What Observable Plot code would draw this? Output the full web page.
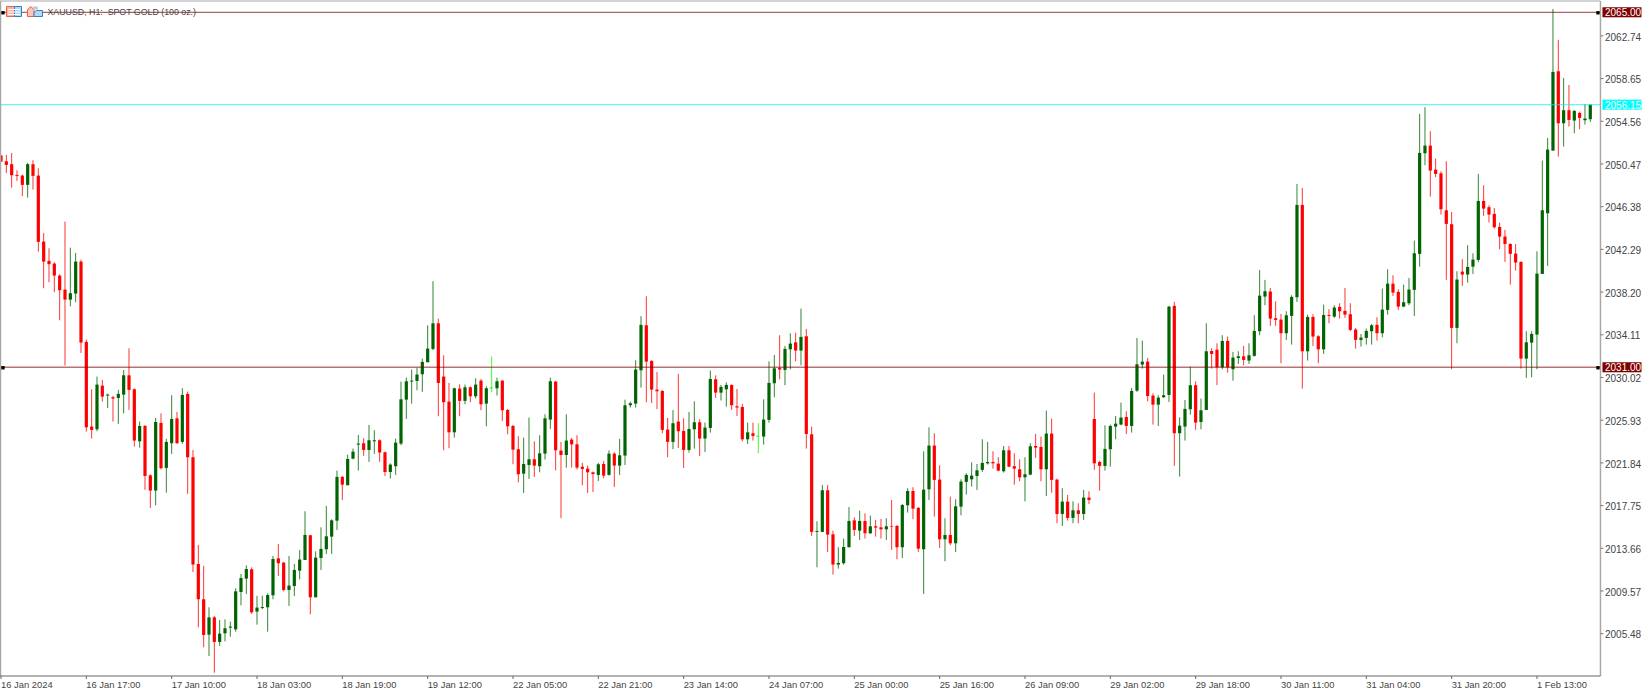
<!DOCTYPE html>
<html><head><meta charset="utf-8">
<style>html,body{margin:0;padding:0;background:#fff;overflow:hidden}svg{display:block}</style>
<script src="https://cdn.jsdelivr.net/npm/d3@7"></script>
<script src="https://cdn.jsdelivr.net/npm/@observablehq/plot@0.6"></script>
</head><body><div id="chart"></div>
<script>
const open = [
2051.28,2050.73,2050.45,2049.42,2049.36,2048.47,2050.45,2049.36,2043.04,2041.19,
2040.93,2039.78,2038.44,2037.48,2038.06,2041.12,2033.43,2025.32,2025.06,2029.24,
2028.29,2028.13,2028.06,2028.38,2030.23,2028.89,2023.91,2025.38,2020.65,2019.19,
2025.67,2021.36,2023.72,2026.11,2023.85,2028.45,2022.38,2012.16,2008.78,2005.39,
2007.05,2004.69,2005.52,2006.06,2005.90,2009.48,2010.76,2011.65,2007.60,2007.95,
2008.01,2009.16,2012.70,2012.29,2009.67,2010.05,2011.52,2012.54,2014.91,2008.97,
2012.74,2013.57,2014.78,2016.31,2020.50,2019.70,2022.25,2023.59,2023.72,2023.08,
2023.91,2024.01,2022.86,2020.97,2021.52,2023.69,2027.90,2029.63,2029.69,2030.33,
2031.48,2032.76,2035.21,2030.11,2027.71,2024.77,2028.96,2027.78,2029.08,2028.22,
2029.72,2027.52,2029.02,2028.99,2029.72,2026.91,2025.38,2023.15,2020.81,2021.64,
2022.19,2021.52,2022.73,2025.99,2029.63,2023.02,2022.60,2024.07,2023.62,2021.48,
2021.29,2020.94,2020.69,2021.74,2020.69,2022.73,2021.58,2022.54,2027.36,2027.52,
2030.71,2035.02,2031.61,2028.86,2028.73,2025.03,2023.85,2025.80,2024.90,2023.08,
2025.06,2025.73,2024.17,2025.19,2029.85,2028.57,2028.89,2029.31,2027.26,2027.20,
2024.10,2024.68,2024.39,2024.36,2025.96,2029.47,2030.94,2030.74,2032.72,2033.39,
2032.60,2033.97,2024.58,2015.23,2015.23,2019.22,2015.00,2012.10,2012.23,2013.76,
2016.34,2015.35,2016.28,2015.10,2015.77,2015.67,2015.48,2015.80,2015.80,2013.76,
2017.78,2019.15,2017.53,2013.57,2019.31,2023.50,2020.24,2014.52,2014.94,2014.14,
2017.65,2020.02,2020.27,2020.59,2021.17,2021.80,2021.93,2021.77,2021.04,2023.05,
2021.52,2021.23,2020.46,2020.72,2023.46,2023.37,2021.23,2024.65,2020.24,2016.95,
2018.13,2016.57,2017.30,2016.95,2018.52,2026.05,2021.93,2021.55,2023.15,2025.32,
2025.51,2026.24,2025.38,2028.76,2031.26,2031.54,2028.29,2027.42,2028.13,2028.35,
2036.88,2024.68,2025.32,2026.98,2029.28,2025.76,2026.91,2032.56,2032.69,2031.00,
2033.52,2030.81,2031.89,2032.05,2031.64,2032.09,2034.45,2037.77,2038.25,2035.69,
2035.57,2034.26,2035.92,2037.71,2046.55,2032.53,2035.82,2033.97,2032.72,2036.01,
2035.85,2036.78,2036.40,2036.08,2034.61,2033.62,2033.81,2034.45,2035.06,2034.26,
2036.49,2039.01,2038.22,2036.81,2037.13,2038.41,2041.86,2051.50,2052.23,2049.93,
2049.58,2046.04,2044.70,2034.77,2040.16,2039.88,2040.64,2041.28,2046.93,2046.33,
2045.69,2044.44,2043.52,2042.81,2041.89,2041.09,2031.83,2033.36,2034.13,2039.94,
2045.75,2051.75,2059.35,2054.37,2055.62,2054.63,2055.36,2054.66,2054.76];
const close = [
2050.70,2050.38,2049.39,2049.33,2048.47,2050.45,2049.33,2043.01,2041.12,2040.87,
2039.78,2038.38,2037.48,2038.09,2041.12,2033.36,2025.25,2025.00,2029.34,2028.19,
2028.38,2028.00,2028.45,2030.23,2028.83,2023.98,2025.38,2020.59,2019.19,2025.76,
2021.33,2023.85,2026.05,2023.72,2028.35,2022.38,2012.10,2008.78,2005.36,2007.05,
2004.69,2005.49,2006.00,2006.16,2009.54,2010.82,2011.68,2007.53,2007.98,2008.04,
2009.19,2012.64,2012.23,2009.67,2010.09,2011.59,2012.58,2014.94,2008.97,2012.77,
2013.60,2014.81,2016.34,2020.50,2019.76,2022.22,2022.92,2023.69,2023.08,2024.01,
2024.01,2022.83,2020.97,2021.68,2023.78,2027.93,2029.66,2029.72,2030.30,2031.51,
2032.79,2035.21,2029.50,2027.65,2024.77,2028.99,2027.78,2029.08,2028.22,2029.34,
2027.46,2028.99,2029.02,2029.66,2026.88,2025.35,2023.11,2020.75,2021.74,2022.19,
2021.58,2022.76,2026.11,2029.66,2023.05,2022.60,2023.98,2023.62,2021.39,2021.26,
2020.94,2020.78,2021.71,2020.62,2022.73,2021.58,2022.57,2027.36,2027.55,2030.78,
2035.06,2031.54,2028.86,2028.70,2025.00,2023.85,2025.64,2024.87,2023.08,2025.09,
2025.73,2024.17,2025.22,2029.88,2028.57,2029.12,2029.31,2027.36,2027.14,2024.10,
2024.77,2024.42,2024.39,2025.99,2029.50,2030.90,2030.78,2032.76,2033.27,2032.60,
2033.91,2024.61,2015.23,2015.32,2019.22,2014.97,2012.10,2012.26,2013.79,2016.28,
2015.42,2016.28,2015.10,2015.77,2015.64,2015.48,2015.77,2015.74,2013.76,2017.81,
2019.15,2017.46,2013.63,2019.28,2023.50,2020.21,2014.52,2014.94,2014.14,2017.68,
2020.05,2020.69,2020.62,2021.13,2021.84,2021.93,2021.80,2021.10,2023.05,2021.48,
2021.29,2020.46,2020.75,2023.43,2023.30,2021.23,2024.65,2020.21,2016.95,2018.13,
2016.57,2017.30,2016.95,2018.52,2018.29,2021.80,2021.55,2023.18,2025.38,2025.60,
2026.18,2025.38,2028.73,2031.29,2031.54,2028.25,2027.42,2028.09,2028.32,2036.81,
2024.68,2025.41,2027.01,2029.28,2025.70,2026.88,2032.53,2032.28,2031.00,2033.52,
2031.00,2031.93,2032.05,2031.70,2032.15,2034.48,2037.86,2038.28,2035.66,2035.53,
2034.26,2035.98,2037.74,2046.55,2032.53,2035.82,2033.94,2032.72,2036.01,2035.92,
2036.72,2036.36,2036.04,2034.58,2033.62,2033.84,2034.48,2035.02,2034.26,2036.52,
2039.01,2038.15,2036.81,2037.23,2038.44,2041.92,2051.53,2052.23,2049.84,2049.52,
2046.13,2044.73,2034.77,2039.40,2039.88,2040.61,2041.31,2046.93,2046.20,2045.62,
2044.41,2043.52,2042.81,2041.86,2041.03,2031.83,2033.39,2034.19,2039.97,2046.04,
2051.85,2059.29,2054.37,2055.62,2054.69,2055.55,2054.88,2054.82,2056.15];
const high = [
2051.34,2051.34,2051.53,2049.87,2049.46,2050.57,2050.83,2050.06,2043.87,2042.40,
2041.06,2039.91,2044.95,2042.46,2041.95,2041.31,2033.65,2028.89,2030.11,2029.79,
2028.48,2028.25,2028.83,2030.74,2032.82,2028.99,2025.80,2025.48,2020.75,2026.15,
2026.59,2024.14,2028.32,2026.72,2028.99,2028.67,2023.08,2013.98,2011.97,2008.01,
2007.18,2006.80,2006.86,2006.64,2009.83,2011.20,2012.03,2011.84,2009.10,2009.13,
2009.35,2012.93,2014.08,2012.35,2012.93,2012.16,2013.50,2017.21,2014.95,2013.37,
2015.67,2017.72,2016.44,2021.10,2020.59,2022.63,2023.21,2024.52,2024.20,2025.48,
2024.97,2024.10,2022.92,2021.80,2024.17,2029.63,2030.01,2030.78,2030.94,2031.83,
2035.02,2039.24,2035.66,2032.15,2029.50,2029.05,2029.37,2029.34,2029.18,2029.95,
2029.88,2029.18,2032.05,2030.01,2029.75,2027.01,2025.48,2024.39,2024.26,2026.18,
2023.91,2024.49,2026.50,2030.01,2029.69,2023.85,2026.50,2024.23,2024.49,2021.84,
2021.58,2021.01,2021.84,2022.03,2023.05,2022.86,2024.14,2027.90,2027.68,2031.67,
2035.89,2037.80,2031.67,2030.55,2028.83,2026.15,2026.91,2030.36,2026.11,2026.72,
2027.74,2026.02,2025.70,2030.68,2030.23,2029.31,2029.56,2029.34,2028.92,2027.49,
2025.70,2025.70,2025.64,2027.93,2031.57,2032.18,2034.07,2033.04,2034.26,2034.32,
2036.62,2034.67,2025.32,2016.25,2019.73,2019.73,2015.35,2013.76,2014.59,2017.62,
2016.63,2017.27,2017.01,2016.79,2016.38,2016.47,2016.54,2018.29,2015.90,2017.91,
2019.41,2019.51,2017.62,2022.95,2025.25,2024.68,2021.61,2016.54,2018.61,2018.36,
2020.27,2020.85,2021.90,2021.74,2024.10,2023.85,2022.95,2022.38,2023.46,2023.46,
2022.76,2022.19,2022.38,2023.72,2024.61,2024.36,2026.85,2026.08,2020.34,2019.41,
2018.77,2018.16,2017.97,2019.25,2019.12,2028.57,2022.06,2025.44,2025.51,2026.34,
2027.62,2026.79,2029.02,2033.81,2033.55,2031.89,2028.51,2028.32,2030.30,2036.88,
2037.26,2026.21,2027.87,2031.06,2029.66,2028.00,2035.21,2032.82,2033.30,2034.07,
2033.94,2032.47,2032.53,2033.04,2033.30,2035.98,2040.32,2039.37,2038.60,2037.32,
2036.11,2036.36,2037.90,2048.56,2048.18,2036.04,2036.08,2034.07,2037.00,2036.56,
2036.94,2037.13,2038.60,2037.13,2034.77,2034.19,2034.70,2035.15,2035.79,2038.54,
2040.39,2039.81,2038.47,2038.92,2039.56,2043.13,2055.27,2055.91,2053.61,2050.99,
2049.77,2050.73,2045.88,2040.20,2041.35,2042.69,2041.92,2049.52,2048.43,2046.52,
2046.26,2044.86,2044.16,2042.88,2042.81,2041.15,2034.45,2034.45,2042.11,2050.80,
2052.97,2065.32,2062.36,2058.71,2058.04,2055.65,2055.49,2056.22,2056.16];
const low = [
2050.64,2049.61,2048.21,2048.85,2047.38,2047.25,2048.02,2042.08,2038.57,2039.14,
2038.18,2035.50,2031.16,2036.84,2037.23,2032.37,2024.84,2024.17,2024.87,2027.71,
2027.10,2025.80,2025.57,2026.59,2026.91,2023.40,2023.30,2019.25,2017.53,2017.78,
2021.23,2018.99,2022.70,2023.66,2023.66,2018.87,2011.39,2006.09,2004.18,2003.35,
2001.75,2004.31,2004.75,2005.20,2005.68,2008.20,2009.29,2007.37,2006.35,2007.82,
2005.68,2008.78,2011.01,2009.54,2008.14,2009.10,2010.69,2012.54,2007.34,2008.95,
2011.59,2013.12,2013.12,2015.42,2018.29,2019.70,2022.19,2021.10,2022.51,2021.93,
2022.70,2021.93,2020.59,2020.34,2020.69,2023.53,2026.05,2027.52,2028.80,2028.64,
2031.48,2032.63,2026.31,2023.05,2023.24,2024.26,2026.31,2027.46,2027.65,2028.03,
2026.88,2025.35,2028.61,2028.29,2025.86,2024.58,2021.71,2019.98,2018.96,2020.30,
2020.50,2020.94,2022.16,2025.09,2021.13,2016.54,2021.39,2021.39,2021.20,2019.70,
2018.96,2019.06,2020.11,2020.37,2020.62,2019.54,2020.69,2021.64,2027.14,2027.14,
2029.05,2027.65,2027.58,2026.98,2024.68,2022.38,2023.15,2023.27,2021.36,2022.83,
2023.21,2022.51,2022.89,2024.74,2028.06,2027.81,2027.23,2026.91,2026.34,2023.91,
2023.66,2023.98,2022.76,2023.59,2025.70,2028.13,2029.85,2029.28,2030.81,2031.57,
2031.19,2023.21,2014.84,2011.84,2015.20,2013.31,2011.14,2011.71,2012.10,2013.76,
2014.84,2014.46,2014.59,2015.03,2014.78,2014.59,2014.46,2013.50,2012.61,2012.74,
2017.08,2016.44,2013.31,2009.29,2018.29,2016.70,2013.69,2012.42,2013.95,2013.31,
2016.82,2018.80,2019.57,2019.25,2020.97,2021.68,2021.29,2021.04,2020.91,2021.42,
2019.76,2020.08,2018.16,2020.65,2022.32,2020.08,2018.67,2018.99,2016.06,2015.80,
2016.31,2016.06,2016.06,2016.38,2017.91,2021.17,2019.19,2021.10,2021.48,2024.10,
2025.44,2024.61,2024.74,2028.64,2030.87,2027.74,2025.51,2025.38,2028.06,2027.68,
2021.55,2020.53,2023.98,2026.47,2025.00,2025.06,2026.91,2030.87,2029.28,2030.81,
2030.49,2029.72,2031.32,2031.19,2031.32,2032.02,2034.07,2036.94,2034.96,2034.96,
2031.38,2033.62,2033.17,2037.26,2028.96,2031.64,2033.04,2031.38,2032.28,2035.21,
2035.73,2035.66,2035.73,2034.45,2032.79,2032.98,2033.17,2033.17,2033.55,2033.87,
2036.04,2037.83,2036.49,2036.75,2036.94,2035.92,2040.64,2050.35,2047.35,2049.20,
2045.62,2039.37,2030.81,2033.30,2038.79,2039.11,2039.94,2041.09,2045.50,2044.86,
2044.28,2042.30,2041.09,2038.92,2040.26,2030.87,2029.98,2030.04,2030.81,2039.94,
2040.71,2051.75,2051.18,2052.14,2054.05,2053.41,2053.80,2054.24,2054.50];

const timeLabels = ["16 Jan 2024","16 Jan 17:00","17 Jan 10:00","18 Jan 03:00","18 Jan 19:00","19 Jan 12:00","22 Jan 05:00","22 Jan 21:00","23 Jan 14:00","24 Jan 07:00","25 Jan 00:00","25 Jan 16:00","26 Jan 09:00","29 Jan 02:00","29 Jan 18:00","30 Jan 11:00","31 Jan 04:00","31 Jan 20:00","1 Feb 13:00"];
const barsPerLabel = 16;
const priceTicks = [2062.74,2058.65,2054.56,2050.47,2046.38,2042.29,2038.20,2034.11,2030.02,2025.93,2021.84,2017.75,2013.66,2009.57,2005.48];
const levels = [{v:2065.00,tag:"#800000",line:"#800000",op:0.62},{v:2031.00,tag:"#800000",line:"#800000",op:0.55},{v:2056.15,tag:"#00ffff",line:"#00f0f0",op:0.6}];
const title = "XAUUSD, H1:\u00a0\u00a0SPOT GOLD (100 oz.)";

const bars = open.map((o,i)=>({i,o,c:close[i],h:high[i],l:low[i]}));
const col = d => d.c>d.o ? "#006400" : d.c<d.o ? "#ff0000" : "#00ff00";
const upBars = bars.filter(d=>d.c>d.o), downBars = bars.filter(d=>d.c<d.o), flatBars = bars.filter(d=>d.c===d.o);
const xAt = px => (px-1)/(5.3333);
const tickIdx = timeLabels.map((_,k)=>k*barsPerLabel);
const FONT = "Liberation Sans, Arial, sans-serif";

function icons(){
  const g = d3.create("svg:g");
  const blocks = [
    ["M6.5 6.5h8v10h-8z","#ffb0a4","#e8604f"],["M14.5 6.5h7v10h-7z","#b4d8f4","#2f84c8"],
    ["M27.5 10l3-3.5 3.5 3v7h-6.5z","#ffc4b8","#e8604f"],["M36.5 10.5h6v6h-8.5v-4z","#b4d8f4","#2f84c8"]];
  for (const [d,f,s] of blocks) g.append("path").attr("d",d).attr("fill",f).attr("stroke",s);
  for (const y of [9.5,12,14.5]) g.append("path").attr("d",`M8 ${y}h12`).attr("stroke","#fff").attr("stroke-width",1);
  g.append("rect").attr("x",33).attr("y",6.5).attr("width",5).attr("height",3).attr("fill","#c8c8c8");
  return g.node();
}

const chart = Plot.plot({
  width:1642, height:691, marginLeft:1, marginRight:41, marginTop:1, marginBottom:15,
  style:{background:"#fff",fontFamily:FONT,overflow:"visible"},
  x:{type:"linear",domain:[0,298],range:[0.5,1589.8],axis:null},
  y:{type:"linear",domain:[2066.08,2001.43],range:[1,676],axis:null},
  marks:[
    // wicks
    Plot.ruleX(bars,{x:"i",y1:"l",y2:"h",stroke:col,strokeWidth:0.8}),
    // bodies
    Plot.ruleX(upBars,{x:"i",y1:"o",y2:"c",stroke:"#006400",strokeWidth:3.2}),
    Plot.ruleX(downBars,{x:"i",y1:"o",y2:"c",stroke:"#ff0000",strokeWidth:3.2}),
    Plot.ruleY(flatBars,{y:"o",x1:d=>d.i-0.3,x2:d=>d.i+0.3,stroke:"#00ff00",strokeWidth:0.8,dy:-0.5}),
    // price lines
    ...levels.map(l=>Plot.ruleY([l.v],{x1:()=>xAt(0),x2:()=>xAt(1601),stroke:l.line,strokeOpacity:l.op,strokeWidth:1.3,dy:-0.5})),
    // frame
    Plot.ruleX([0],{x:()=>xAt(0.9),y1:()=>2066.08,y2:()=>2001.43,stroke:"#a8a8a8",strokeWidth:1.7,dx:-0.5}),
    Plot.ruleX([0],{x:()=>xAt(1601),y1:()=>2066.08,y2:()=>2001.43,stroke:"#a8a8a8",strokeWidth:1.5,dx:-0.5}),
    Plot.ruleY([2066.08],{x1:()=>xAt(0),x2:()=>xAt(1601),stroke:"#a8a8a8",strokeWidth:1.2,dy:-0.5}),
    Plot.ruleY([2001.43],{x1:()=>xAt(0),x2:()=>xAt(1601),stroke:"#666",strokeWidth:1,dy:-0.5}),
    // axes
    Plot.ruleY(priceTicks,{x1:()=>xAt(1601),x2:()=>xAt(1604),stroke:"#777",strokeWidth:1,dy:-0.5}),
    Plot.axisY({anchor:"right",ticks:priceTicks,tickFormat:d=>d.toFixed(2),tickSize:0,tickPadding:3.5,label:null,color:"#444",fontSize:10,fontFamily:FONT,textAnchor:"start",dy:1}),
    Plot.axisX({anchor:"bottom",ticks:tickIdx,tickFormat:d=>timeLabels[d/barsPerLabel],tickSize:3,label:null,stroke:"#666",color:"#444",fontSize:9.4,fontFamily:FONT,textAnchor:"start",tickPadding:2}),
    // price tags and anchors
    Plot.rect(levels,{x1:()=>xAt(1603),x2:()=>xAt(1642),y1:d=>d.v+0.48,y2:d=>d.v-0.48,fill:d=>d.tag}),
    Plot.text(levels,{x:()=>xAt(1605),y:"v",text:d=>d.v.toFixed(2),fill:"#fff",textAnchor:"start",fontSize:10,fontFamily:FONT,dy:0.5}),
    Plot.dot(levels.slice(0,2),{x:()=>xAt(3),y:"v",symbol:"square",r:1.9,fill:"#000",stroke:null}),
    Plot.dot(levels.slice(0,2),{x:()=>xAt(1598),y:"v",symbol:"square",r:1.9,fill:"#000",stroke:null}),
    // chart header
    icons,
    Plot.text([title],{frameAnchor:"top-left",dx:46,dy:7,lineAnchor:"top",text:d=>d,fill:"#444",fontSize:8.8,fontFamily:FONT,textAnchor:"start"})
  ]
});
document.getElementById("chart").append(chart);
</script></body></html>
